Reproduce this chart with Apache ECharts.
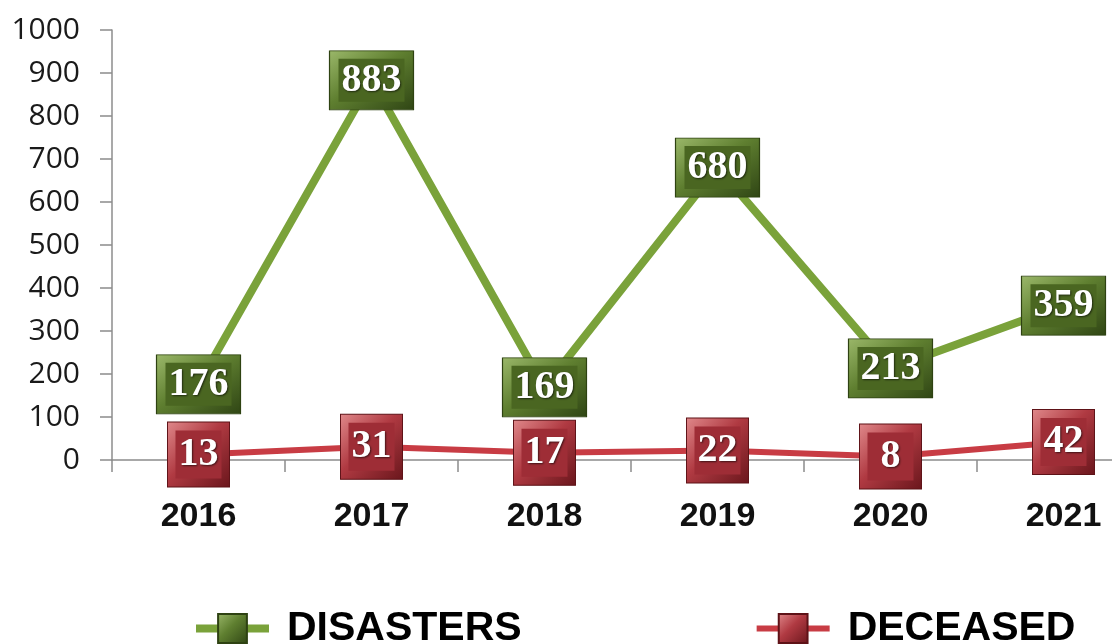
<!DOCTYPE html>
<html>
<head>
<meta charset="utf-8">
<script src="https://cdn.jsdelivr.net/npm/echarts@6/dist/echarts.min.js"></script>
<style>
html,body{margin:0;padding:0;background:#fff;}
#chart{width:1112px;height:644px;}
</style>
</head>
<body>
<div id="chart"></div>
<script>
const years = ['2016', '2017', '2018', '2019', '2020', '2021'];
const disasters = [176, 883, 169, 680, 213, 359];
const deceased = [13, 31, 17, 22, 8, 42];
const seriesNames = ['DISASTERS', 'DECEASED'];
const yMin = 0, yMax = 1000, yStep = 100;

const G = echarts.graphic;
const greenFrame = new G.LinearGradient(0, 0, 1, 1, [
  {offset: 0, color: '#9bb86a'},
  {offset: 0.45, color: '#5f7f30'},
  {offset: 1, color: '#2f4514'}
]);
const redFrame = new G.LinearGradient(0, 0, 1, 1, [
  {offset: 0, color: '#e0898b'},
  {offset: 0.45, color: '#b03a42'},
  {offset: 1, color: '#6a161c'}
]);

const chart = echarts.init(document.getElementById('chart'));
chart.setOption({
  animation: false,
  backgroundColor: '#fff',
  grid: {left: 112, top: 30, width: 1038, height: 430, containLabel: false, outerBoundsMode: 'none'},
  xAxis: {
    type: 'category',
    data: years,
    boundaryGap: true,
    axisLine: {lineStyle: {color: '#8c8c8c', width: 1.5}},
    axisTick: {show: true, length: 12, lineStyle: {color: '#8c8c8c', width: 1.5}},
    axisLabel: {
      margin: 40,
      fontFamily: 'Liberation Sans, Arial, sans-serif',
      fontWeight: 'bold',
      fontSize: 34,
      color: '#111'
    },
    splitLine: {show: false}
  },
  yAxis: {
    type: 'value',
    min: yMin, max: yMax, interval: yStep,
    axisLine: {show: true, lineStyle: {color: '#8c8c8c', width: 1.5}},
    axisTick: {show: true, length: 12, lineStyle: {color: '#8c8c8c', width: 1.5}},
    axisLabel: {
      margin: 32,
      formatter: function (v) { return String(v); },
      fontFamily: 'Open Sans, sans-serif',
      fontSize: 30,
      color: '#1a1a1a'
    },
    splitLine: {show: false}
  },
  legend: {
    data: [
      {name: seriesNames[0], lineStyle: {width: 8, color: '#7aa23a'}},
      {name: seriesNames[1], lineStyle: {width: 6, color: '#c83c44'}}
    ],
    left: 187,
    top: 603,
    itemWidth: 73,
    itemHeight: 36,
    itemGap: 232,
    textStyle: {
      fontFamily: 'Liberation Sans, Arial, sans-serif',
      fontWeight: 'bold',
      fontSize: 41,
      color: '#000',
      padding: [0, 0, 0, 13]
    }
  },
  series: [
    {
      name: seriesNames[0],
      type: 'line',
      data: disasters,
      symbol: 'rect',
      symbolSize: [84, 59],
      lineStyle: {color: '#7aa23a', width: 8},
      itemStyle: {color: greenFrame, borderColor: '#2e4212', borderWidth: 1},
      label: {
        show: true,
        position: 'inside',
        width: 66,
        height: 43,
        lineHeight: 43,
        align: 'center',
        verticalAlign: 'middle',
        backgroundColor: '#4a6621',
        fontFamily: 'Liberation Serif, Times New Roman, serif',
        fontWeight: 'bold',
        fontSize: 40,
        color: '#fff',
        textShadowColor: 'rgba(0,0,0,0.6)',
        textShadowBlur: 2,
        textShadowOffsetX: 1,
        textShadowOffsetY: 1
      },
      z: 3
    },
    {
      name: seriesNames[1],
      type: 'line',
      data: deceased,
      symbol: 'rect',
      symbolSize: [62, 65],
      lineStyle: {color: '#c83c44', width: 6},
      itemStyle: {color: redFrame, borderColor: '#5e1217', borderWidth: 1},
      label: {
        show: true,
        position: 'inside',
        width: 46,
        height: 48,
        lineHeight: 48,
        align: 'center',
        verticalAlign: 'middle',
        backgroundColor: '#9e2d36',
        fontFamily: 'Liberation Serif, Times New Roman, serif',
        fontWeight: 'bold',
        fontSize: 40,
        color: '#fff',
        textShadowColor: 'rgba(0,0,0,0.6)',
        textShadowBlur: 2,
        textShadowOffsetX: 1,
        textShadowOffsetY: 1
      },
      z: 4
    }
  ]
});
</script>
</body>
</html>
